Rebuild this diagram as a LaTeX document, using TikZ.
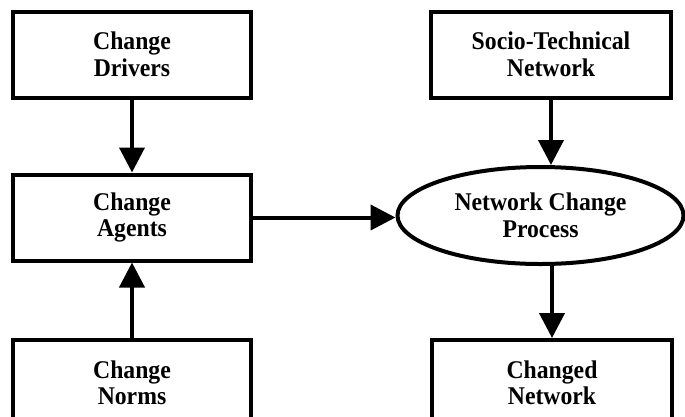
\documentclass[tikz,border=0pt]{standalone}
\usepackage{fontspec}
\setmainfont{Liberation Serif}[FakeStretch=0.93]
\usetikzlibrary{arrows.meta,shapes.geometric}
\begin{document}
\begin{tikzpicture}[x=1pt,y=-1pt,
  box/.style={draw=black,line width=4pt,fill=white,minimum width=238pt,minimum height=86pt,inner sep=0pt,align=center,font=\fontsize{25.5}{26.5}\selectfont\bfseries},
  proc/.style={draw=black,line width=4pt,ellipse,minimum width=286pt,minimum height=97pt,inner sep=0pt,align=center,font=\fontsize{25.5}{26.5}\selectfont\bfseries},
  arr/.style={line width=4pt,-{Triangle[length=25pt,width=25pt]}}]
\clip (0,0) rectangle (685,416);
\fill[white] (0,0) rectangle (685,416);
\node[box] (drivers) at (132,54.5) {Change\\Drivers};
\node[box] (agents) at (132,217.5) {Change\\Agents};
\node[box] (norms) at (132,383) {Change\\Norms};
\node[box,minimum width=240pt] (socio) at (551,54.5) {Socio-Technical\\Network};
\node[box,minimum width=240pt] (changed) at (552,383) {Changed\\Network};
\node[proc] (proc) at (540.5,215.5) {Network Change\\Process};
\draw[arr] (drivers) -- (agents);
\draw[arr] (norms) -- (agents);
\draw[arr] (agents.east) -- (agents.east -| proc.west);
\draw[arr] (socio.south) -- (socio.south |- proc.north);
\draw[arr] (changed.north |- proc.south) -- (changed.north);
\end{tikzpicture}
\end{document}
